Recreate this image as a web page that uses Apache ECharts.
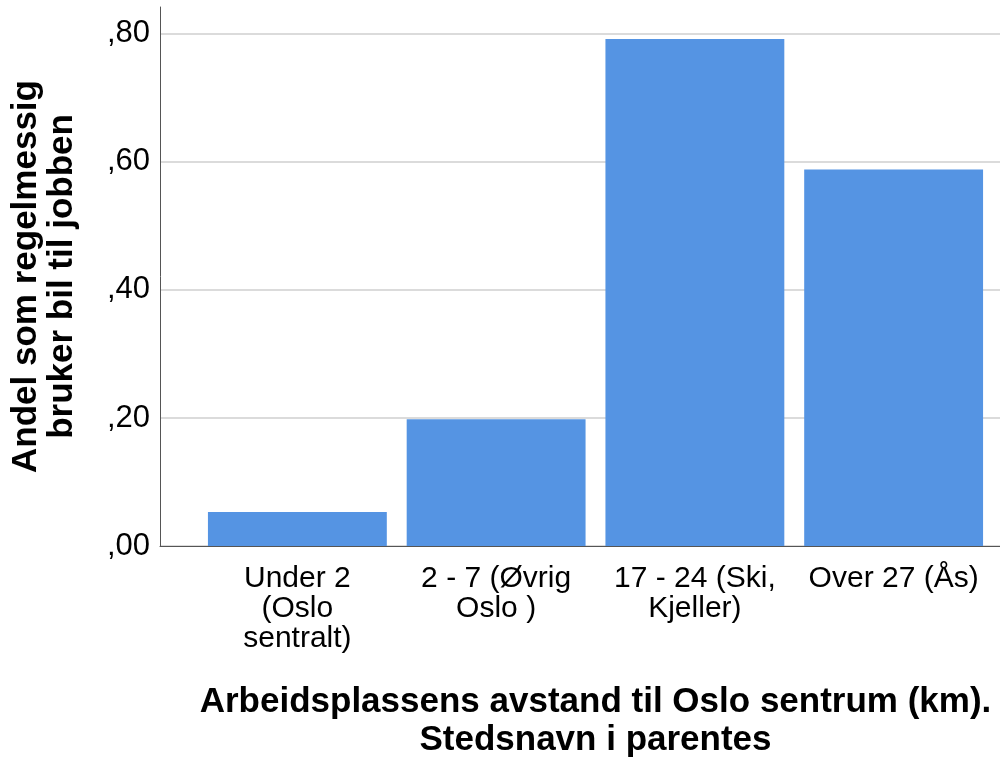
<!DOCTYPE html>
<html><head><meta charset="utf-8">
<script src="https://cdn.jsdelivr.net/npm/echarts@6/dist/echarts.min.js"></script>
<style>html,body{margin:0;padding:0;background:#fff}#c{width:1000px;height:779px}</style>
</head><body><div id="c"></div>
<script>
const categories = ["Under 2\n(Oslo\nsentralt)", "2 - 7 (Øvrig\nOslo )", "17 - 24 (Ski,\nKjeller)", "Over 27 (Ås)"];
const values = [0.053, 0.198, 0.792, 0.588];
const yTicks = [0, 0.2, 0.4, 0.6, 0.8];
const yTitle = "Andel som regelmessig\nbruker bil til jobben";
const xTitle = "Arbeidsplassens avstand til Oslo sentrum (km).\nStedsnavn i parentes";

const FONT = "'Liberation Sans', Arial, sans-serif";
const yMin = 0, yMax = 0.842;
const chart = echarts.init(document.getElementById('c'), null, {renderer: 'canvas'});
chart.setOption({
  animation: false,
  grid: [
    {left: 155, right: 0, top: 7, bottom: 233, containLabel: false},
    {left: 198, right: 7, top: 7, bottom: 233, containLabel: false}
  ],
  xAxis: [
    {gridIndex: 0, type: 'value', min: 0, max: 1, show: true,
     axisLine: {show: true, onZero: false, lineStyle: {color: '#555', width: 1}},
     axisTick: {show: false}, axisLabel: {show: false}, splitLine: {show: false}},
    {gridIndex: 1, type: 'category', data: categories,
     axisLine: {show: false}, axisTick: {show: false},
     axisLabel: {show: true, color: '#000', fontFamily: FONT, fontSize: 30, lineHeight: 30, margin: 18, interval: 0},
     name: xTitle, nameLocation: 'middle', nameGap: 137,
     nameTextStyle: {color: '#000', fontFamily: FONT, fontSize: 35, fontWeight: 'bold', lineHeight: 38}}
  ],
  yAxis: [
    {gridIndex: 0, type: 'value', min: yMin, max: yMax, interval: 0.2,
     axisLine: {show: true, lineStyle: {color: '#555', width: 1}},
     axisTick: {show: false},
     axisLabel: {color: '#000', fontFamily: FONT, fontSize: 31, margin: 10,
       showMaxLabel: false,
       formatter: v => yTicks.some(t => Math.abs(t - v) < 1e-9) ? ',' + v.toFixed(2).split('.')[1] : ''},
     splitLine: {show: true, showMaxLine: false, lineStyle: {color: '#cfcfcf', width: 1.5}},
     name: yTitle, nameLocation: 'middle', nameGap: 80,
     nameTextStyle: {color: '#000', fontFamily: FONT, fontSize: 35, fontWeight: 'bold', lineHeight: 36}},
    {gridIndex: 1, type: 'value', min: yMin, max: yMax, show: false, splitLine: {show: false}}
  ],
  series: [{
    type: 'bar', xAxisIndex: 1, yAxisIndex: 1, data: values,
    barCategoryGap: '10%',
    itemStyle: {color: '#5594e3'}
  }]
});
</script></body></html>
